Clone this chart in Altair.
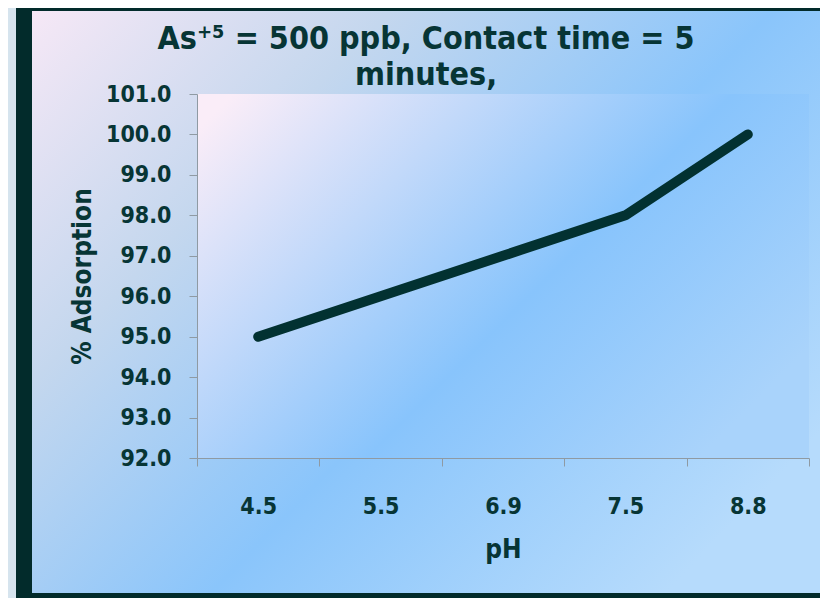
import altair as alt
import pandas as pd

# ---- data ----
ph_values = ["4.5", "5.5", "6.9", "7.5", "8.8"]
adsorption = [95.0, 96.0, 97.0, 98.0, 100.0]
y_ticks = [92, 93, 94, 95, 96, 97, 98, 99, 100, 101]
title_lines = ["As⁺⁵ = 500 ppb, Contact time = 5", "minutes,"]

df = pd.DataFrame({"pH": ph_values, "adsorption": adsorption})

W, H = 612, 364
FONT = "DejaVu Sans Condensed"
TXT = "#073535"
AX = "#8f9aa3"

one = alt.Data(values=[{}])

strip = alt.Chart(one).mark_rect(color="#d6e4ee").encode(
    x=alt.value(-189), x2=alt.value(-181), y=alt.value(-90), y2=alt.value(H + 150)
)

outer = alt.Chart(one).mark_rect(
    fill=alt.LinearGradient(
        gradient="linear",
        stops=[
            alt.GradientStop(color="#f6e8f6", offset=0),
            alt.GradientStop(color="#c4d7ee", offset=0.3),
            alt.GradientStop(color="#8ac5fb", offset=0.62),
            alt.GradientStop(color="#b6dbfc", offset=1),
        ],
        x1=0, y1=0, x2=1, y2=0.7,
    )
).encode(x=alt.value(-165), x2=alt.value(W + 25), y=alt.value(-83), y2=alt.value(H + 135))

plot_bg = alt.Chart(one).mark_rect(
    fill=alt.LinearGradient(
        gradient="linear",
        stops=[
            alt.GradientStop(color="#faedf8", offset=0),
            alt.GradientStop(color="#88c4fc", offset=0.6),
            alt.GradientStop(color="#a9d3fb", offset=1),
        ],
        x1=0, y1=0.1, x2=1, y2=0.7,
    )
).encode(x=alt.value(0), x2=alt.value(W), y=alt.value(0), y2=alt.value(H))

line = alt.Chart(df).mark_line(
    color="#023131", strokeWidth=10, strokeCap="round", strokeJoin="round"
).encode(
    x=alt.X(
        "pH:N",
        sort=ph_values,
        bandPosition=0.5,
        scale=alt.Scale(type="band", paddingInner=0, paddingOuter=0),
        axis=alt.Axis(
            title="pH", labelAngle=0, tickBand="extent", tickSize=8,
            labelPadding=29, titlePadding=18, zindex=1,
            domainColor=AX, tickColor=AX,
        ),
    ),
    y=alt.Y(
        "adsorption:Q",
        scale=alt.Scale(domain=[92, 101], nice=False, zero=False),
        axis=alt.Axis(
            title="% Adsorption", values=y_ticks, format=".1f", grid=False,
            tickSize=8, labelPadding=18, titlePadding=10, zindex=1,
            domainColor=AX, tickColor=AX,
        ),
    ),
)

chart = alt.layer(strip, outer, plot_bg, line).properties(
    width=W,
    height=H,
    autosize=alt.AutoSizeParams(type="none"),
    padding={"left": 189, "top": 86, "right": 11, "bottom": 140},
    background="#022b2b",
    title=alt.TitleParams(
        text=title_lines, font=FONT, fontSize=32, fontWeight="bold", color=TXT,
        anchor="middle", frame="group", dx=-77, offset=-88, lineHeight=36,
    ),
).configure_view(stroke=None).configure_axis(
    labelFont=FONT, titleFont=FONT, labelFontSize=23, titleFontSize=26,
    labelFontWeight="bold", titleFontWeight="bold",
    labelColor=TXT, titleColor=TXT,
)

chart.save("out.html", embed_options={"renderer": "svg", "actions": False})
